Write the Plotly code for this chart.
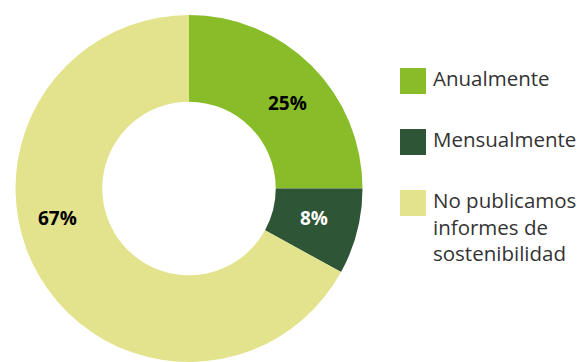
import plotly.graph_objects as go

# Frecuencia de publicación de informes de sostenibilidad
categories = ["Anualmente", "Mensualmente", "No publicamos informes de sostenibilidad"]
legend_text = ["Anualmente", "Mensualmente", "No publicamos<br>informes de<br>sostenibilidad"]
values = [25, 8, 67]
colors = ["#89bc29", "#2d5536", "#e3e38e"]
label_colors = ["#000000", "#ffffff", "#000000"]

W, H = 580, 362
FONT = "Open Sans"

def px(x):
    return x / W

def py(y):
    return 1 - y / H

fig = go.Figure()
fig.add_trace(go.Pie(
    labels=categories,
    values=values,
    hole=0.5,
    sort=False,
    direction="clockwise",
    rotation=0,
    marker=dict(colors=colors, line=dict(width=0)),
    textinfo="none",
    hoverinfo="label+percent",
    showlegend=False,
    domain=dict(x=[px(15.5), px(362.5)], y=[0, py(15)]),
))

# Percentage labels inside each slice
label_pos = [(287, 103), (313.5, 218), (57, 217.5)]
total = sum(values)
annotations = []
for v, (x, y), c in zip(values, label_pos, label_colors):
    annotations.append(dict(
        x=px(x), y=py(y), xref="paper", yref="paper",
        text=f"<b>{round(100 * v / total)}%</b>",
        showarrow=False, xanchor="center", yanchor="middle",
        font=dict(family=FONT, size=19, color=c),
    ))

# Custom legend: squares and labels to the right of the donut
shapes = []
square_tops = [68, 129, 190]
for top, col, txt in zip(square_tops, colors, legend_text):
    shapes.append(dict(
        type="rect", xref="paper", yref="paper",
        x0=px(400), x1=px(426), y0=py(top), y1=py(top + 26),
        fillcolor=col, line=dict(width=0),
    ))
    annotations.append(dict(
        x=px(431), y=py(top - 6), xref="paper", yref="paper",
        text=txt, showarrow=False, xanchor="left", yanchor="top",
        align="left",
        font=dict(family=FONT, size=20.5, color="#333333"),
    ))

fig.update_layout(
    width=W, height=H,
    margin=dict(l=0, r=0, t=0, b=0),
    paper_bgcolor="white",
    plot_bgcolor="white",
    annotations=annotations,
    shapes=shapes,
)

fig.write_html("out.html")
